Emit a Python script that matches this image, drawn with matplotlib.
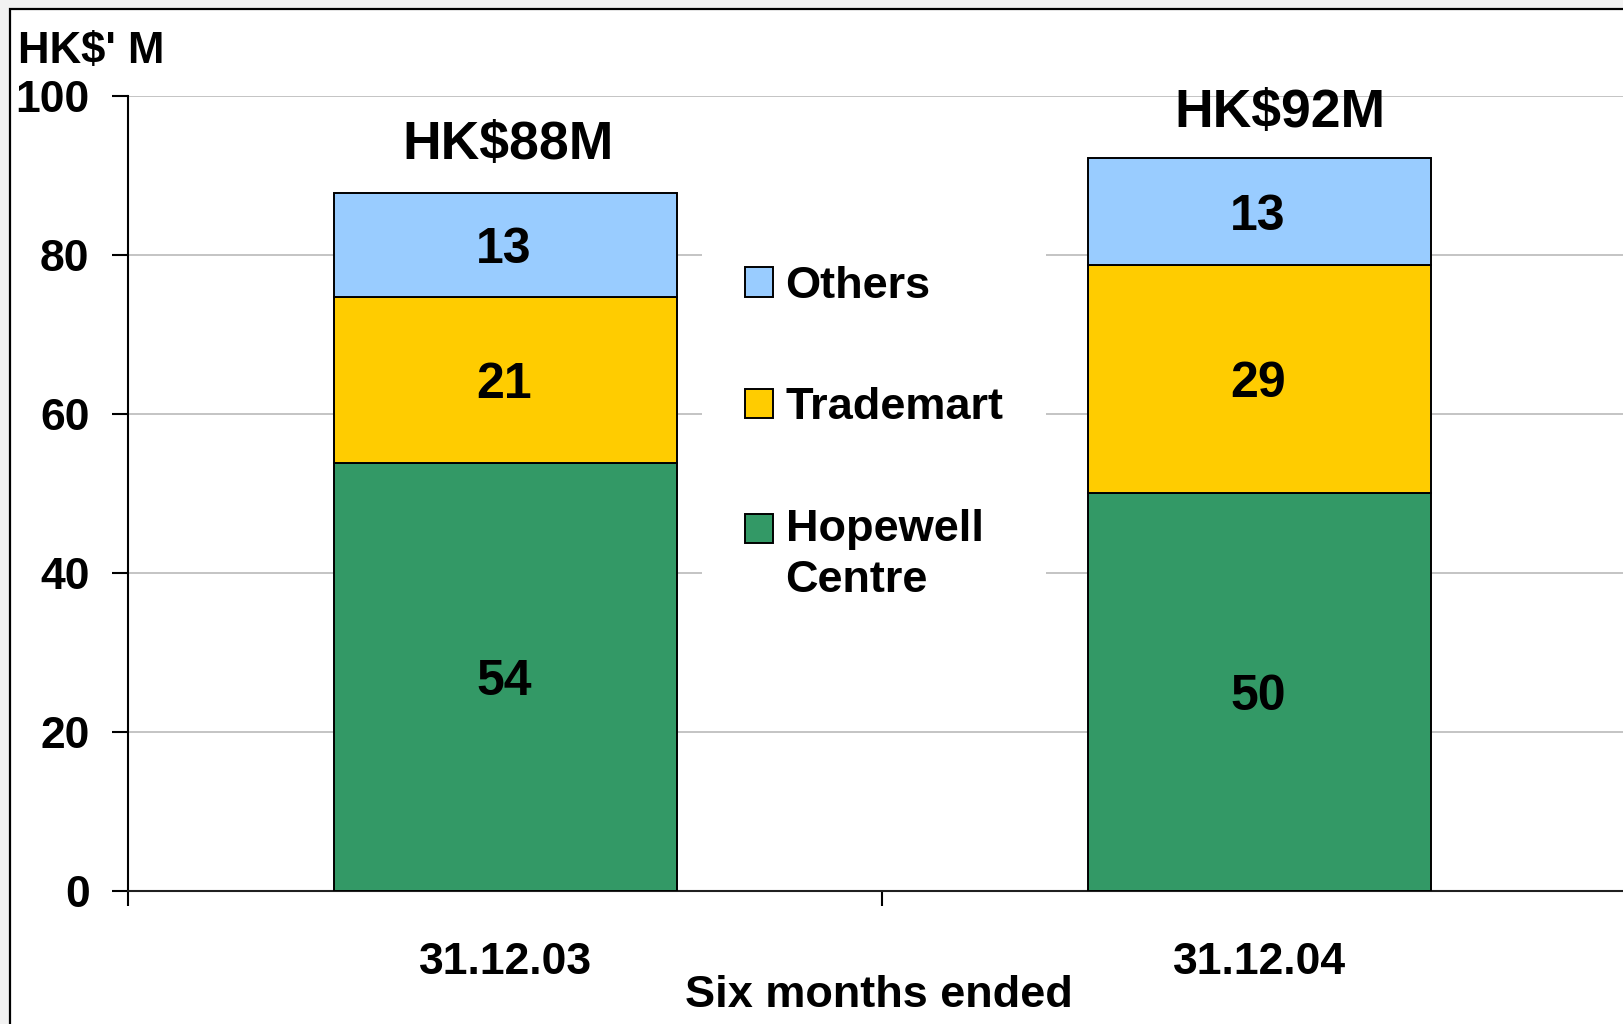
import matplotlib
matplotlib.use("Agg")
import matplotlib.pyplot as plt
from matplotlib.patches import Rectangle
from matplotlib.legend_handler import HandlerPatch
import numpy as np

plt.rcParams['font.family'] = ['Liberation Sans', 'DejaVu Sans']
plt.rcParams['font.weight'] = 'bold'

# ---- data ----
categories = ["31.12.03", "31.12.04"]
hopewell = [53.8, 50.1]
trademart = [20.9, 28.7]
others = [13.1, 13.4]
series_names = ["Hopewell\nCentre", "Trademart", "Others"]
colors = ["#339966", "#FFCC00", "#99CCFF"]
y_ticks = [0, 20, 40, 60, 80, 100]

W, H = 1624, 1024
fig = plt.figure(figsize=(W / 100, H / 100), dpi=100, facecolor="#f2f2f2")

# white panel with black frame
panel = Rectangle((10 / W, -0.2), 1.5, 1 - 9 / H + 0.2, transform=fig.transFigure,
                  facecolor="white", edgecolor="black", lw=1.6, zorder=-10)
fig.patches.append(panel)

ax = fig.add_axes([128.4 / W, 1 - 890.7 / H, (1636 - 128.4) / W, (890.7 - 96.3) / H])
ax.set_facecolor("white")

x = np.arange(len(categories))
width = 0.455
stack = [hopewell, trademart, others]
bottom = np.zeros(len(categories))
bar_containers = []
for vals, name, col in zip(stack, series_names, colors):
    vals = np.array(vals)
    bc = ax.bar(x, vals, width, bottom=bottom, color=col, edgecolor="black",
                linewidth=1.4, label=name, zorder=3)
    bar_containers.append(bc)
    for xi, b, v in zip(x, bottom, vals):
        ax.annotate(f"{v:.0f}", (xi, b + v / 2), xytext=(-1, -13),
                    textcoords="offset points", ha="center", va="baseline",
                    fontsize=36, fontweight="bold", zorder=5)
    bottom = bottom + vals

totals = bottom
tot_dx = [2.0, 15]
tot_dy = [24.5, 22.5]
for xi, t, dx, dy in zip(x, totals, tot_dx, tot_dy):
    ax.annotate(f"HK${t:.0f}M", (xi, t), xytext=(dx, dy), textcoords="offset points",
                ha="center", va="baseline", fontsize=38.5, fontweight="bold", zorder=5)

ax.set_xlim(-0.5, 1.5)
ax.set_ylim(0, 100)
ax.set_yticks(y_ticks)
ax.set_yticklabels([str(v) for v in y_ticks])
ax.yaxis.grid(True, color="#c4c4c4", linewidth=1.4, zorder=0)
ax.set_axisbelow(True)

ax.set_xticks(x)
ax.set_xticklabels(categories)
ax.set_xticks([-0.5, 0.5, 1.5], minor=True)
ax.tick_params(axis="x", which="major", length=0, pad=37, labelsize=32)
ax.tick_params(axis="x", which="minor", length=11, width=1.5, direction="out")
ax.tick_params(axis="y", which="major", length=11.5, width=1.5, direction="out",
               pad=16.5, labelsize=32)

for s in ["top", "right"]:
    ax.spines[s].set_visible(False)
ax.spines["left"].set_linewidth(1.5)
ax.spines["bottom"].set_linewidth(1.5)
ax.spines["bottom"].set_color("#202020")

ax.set_xlabel("Six months ended", fontsize=32.5, fontweight="bold")
ax.xaxis.set_label_coords(0.5 - 3 / 1507.6, (890.7 - 975) / 794.4)

fig.text(18 / W, 1 - 63 / H, "HK$' M", fontsize=31.5, fontweight="bold",
         ha="left", va="baseline")


# legend: handle of the two-line entry sits on its first line
def top_line_patch(legend, orig_handle, xdescent, ydescent, width, height, fontsize):
    return Rectangle((-xdescent, -ydescent + 19.1), width, height)


leg_handles = [bc.patches[0] for bc in bar_containers]
hmap = {leg_handles[0]: HandlerPatch(patch_func=top_line_patch)}
leg = ax.legend(leg_handles[::-1], series_names[::-1], loc="upper left",
                bbox_to_anchor=(702 / W, 1 - 223 / H), bbox_transform=fig.transFigure,
                borderaxespad=0, frameon=True, fancybox=False, framealpha=1,
                facecolor="white", edgecolor="none", fontsize=32.5,
                handlelength=0.62, handleheight=0.62, handletextpad=0.28,
                labelspacing=1.78, borderpad=0.95, handler_map=hmap)
for t in leg.get_texts():
    t.set_fontweight("bold")
    t.set_linespacing(1.34)
leg.set_zorder(4)

fig.savefig("out.png", dpi=100, facecolor=fig.get_facecolor())
